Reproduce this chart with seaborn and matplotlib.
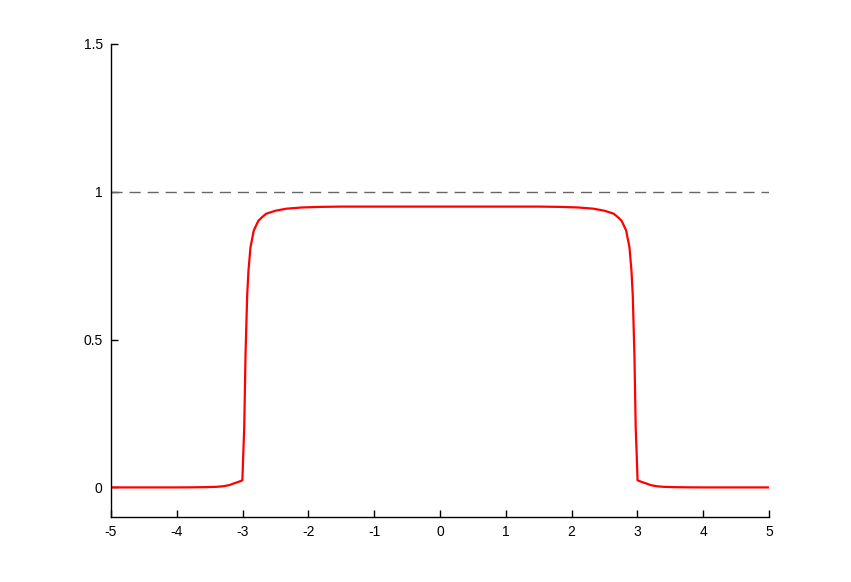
import numpy as np
import pandas as pd
import seaborn as sns
import matplotlib.pyplot as plt

# values
x_left = [-5.0, -4.5, -4.0, -3.8, -3.545, -3.4, -3.293, -3.2, -3.14, -3.06, -3.003,
          -2.99, -2.975, -2.955, -2.93, -2.91, -2.90, -2.88, -2.855, -2.83, -2.79,
          -2.76, -2.70, -2.64, -2.5, -2.33, -2.1, -1.824, -1.5, -1.0, -0.5, 0.0]
y_left = [0.0, 0.0, 0.0, 0.0003, 0.001, 0.002, 0.004, 0.008, 0.013, 0.019, 0.024,
          0.11, 0.2, 0.45, 0.65, 0.734, 0.76, 0.812, 0.84, 0.869, 0.888,
          0.902, 0.915, 0.926, 0.936, 0.943, 0.947, 0.949, 0.95, 0.95, 0.95, 0.95]
x_right = [0.5, 1.0, 1.5, 1.824, 2.1, 2.33, 2.5, 2.64, 2.70, 2.76, 2.79, 2.83,
           2.855, 2.88, 2.90, 2.91, 2.93, 2.955, 2.975, 2.99, 3.003, 3.06, 3.14,
           3.2, 3.293, 3.4, 3.545, 3.8, 4.0, 4.5, 5.0]
y_right = [0.95, 0.95, 0.95, 0.949, 0.947, 0.943, 0.936, 0.926, 0.915, 0.902, 0.888,
           0.869, 0.84, 0.812, 0.76, 0.734, 0.65, 0.45, 0.2, 0.11, 0.024, 0.019,
           0.013, 0.008, 0.004, 0.002, 0.001, 0.0003, 0.0, 0.0, 0.0]
ref_level = 1.0
xticks = [-5, -4, -3, -2, -1, 0, 1, 2, 3, 4, 5]
yticks = [0, 0.5, 1, 1.5]
ytick_labels = ["0", "0.5", "1", "1.5"]

df = pd.DataFrame({"x": x_left + x_right, "y": y_left + y_right})

sns.set_style("ticks")
plt.rcParams["font.family"] = ["Liberation Sans", "DejaVu Sans"]
plt.rcParams["axes.unicode_minus"] = False

fig = plt.figure(figsize=(8.51, 5.82), dpi=100)
ax = fig.add_axes([0.1304, 0.1117, 0.7732, 0.8127])

ax.axhline(ref_level, color="#666666", lw=1.0, dashes=(8, 5))
sns.lineplot(data=df, x="x", y="y", color="red", lw=1.6, sort=False, ax=ax)
ax.lines[-1].set_solid_joinstyle("round")

ax.set_xlim(-5, 5)
ax.set_ylim(-0.1, 1.5)
ax.set_xticks(xticks)
ax.set_xticklabels([str(t) for t in xticks])
ax.set_yticks(yticks)
ax.set_yticklabels(ytick_labels)
ax.set_xlabel("")
ax.set_ylabel("")
ax.tick_params(direction="in", length=5, width=1, colors="black", labelsize=10, pad=6)
sns.despine(ax=ax)
for s in ["left", "bottom"]:
    ax.spines[s].set_linewidth(1.0)
    ax.spines[s].set_color("black")

fig.savefig("out.png", dpi=100, facecolor="white")
